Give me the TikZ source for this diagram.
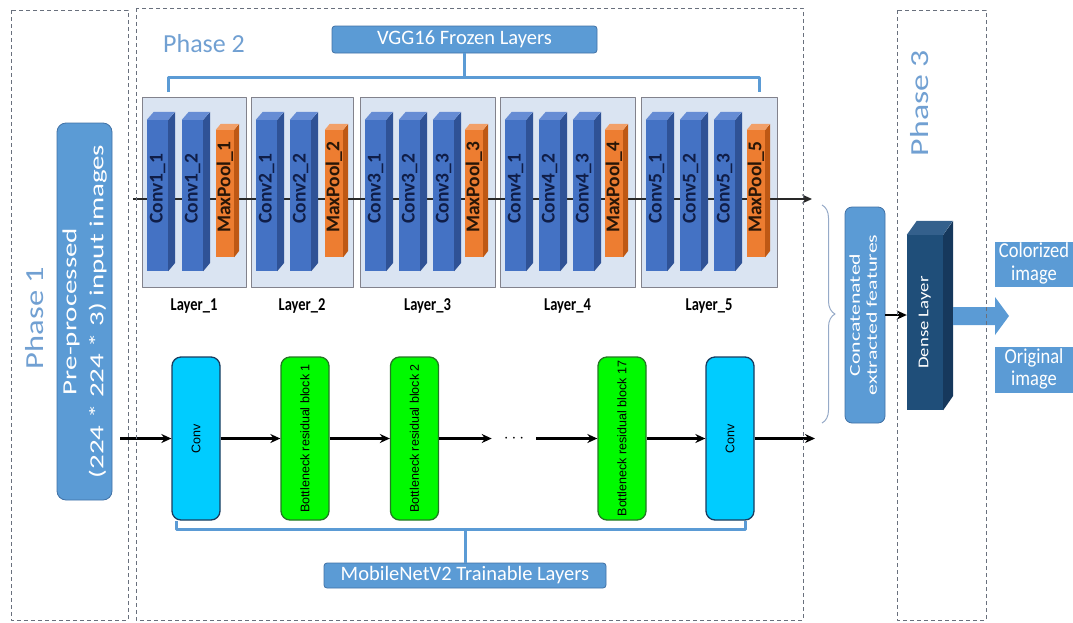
\documentclass[tikz,border=0pt]{standalone}
\usepackage{fontspec}
\setmainfont{Carlito}
\newfontfamily\arialfont{Liberation Sans}
\usepackage{graphicx}
\usetikzlibrary{arrows.meta,positioning,decorations.pathreplacing}

\definecolor{phaseblue}{RGB}{113,160,210}
\definecolor{boxblue}{RGB}{91,155,213}
\definecolor{boxedge}{RGB}{65,113,165}
\definecolor{layerfill}{RGB}{218,228,242}
\definecolor{layeredge}{RGB}{130,130,140}
\definecolor{convfront}{RGB}{68,114,196}
\definecolor{convside}{RGB}{47,82,150}
\definecolor{convtop}{RGB}{102,140,212}
\definecolor{convtext}{RGB}{16,30,72}
\definecolor{poolfront}{RGB}{237,125,49}
\definecolor{poolside}{RGB}{190,88,20}
\definecolor{pooltop}{RGB}{242,160,105}
\definecolor{pooltext}{RGB}{40,22,8}
\definecolor{densefront}{RGB}{31,78,121}
\definecolor{denseside}{RGB}{22,56,92}
\definecolor{densetop}{RGB}{52,96,140}
\definecolor{mbcyan}{RGB}{0,204,255}
\definecolor{mbcyanedge}{RGB}{25,60,95}
\definecolor{mbgreen}{RGB}{0,250,0}
\definecolor{mbgreenedge}{RGB}{35,120,35}
\definecolor{dashgray}{RGB}{105,112,125}
\definecolor{bracegray}{RGB}{150,170,200}
\definecolor{linegray}{RGB}{40,40,40}

\newcommand{\fsz}[2]{\fontsize{#1}{#2}\selectfont}
\newcommand{\vlabel}[2][1.3]{\scalebox{1}[#1]{\rotatebox{90}{\begin{tabular}{@{}c@{}}#2\end{tabular}}}}
\newcommand{\hlabel}[2][1.15]{\scalebox{1}[#1]{\begin{tabular}{@{}c@{}}#2\end{tabular}}}

\begin{document}
\begin{tikzpicture}[x=1pt, y=-1pt, >={Stealth[length=10pt,width=9pt]}, line join=round,
	phasebox/.style={draw=dashgray, line width=0.9pt, dash pattern=on 4pt off 3pt},
	phasetxt/.style={text=phaseblue, inner sep=0pt, font=\fsz{26}{30}},
	bluebox/.style={fill=boxblue, draw=boxedge, line width=0.8pt, text=white, inner sep=0pt},
	layerbox/.style={fill=layerfill, draw=layeredge, line width=0.9pt, minimum height=190, inner sep=0pt},
	layertxt/.style={font=\bfseries\fsz{14.5}{17}, inner sep=0pt},
	conv/.style={fill=convfront, minimum width=21, minimum height=151, inner sep=0pt},
	pool/.style={fill=poolfront, minimum width=18, minimum height=127, inner sep=0pt},
	blocktxt/.style={rotate=90, inner sep=0pt, font=\bfseries\fsz{19.5}{22}},
	mbblock/.style={rounded corners=9, minimum width=48, minimum height=163, line width=1.3pt, inner sep=0pt, font=\arialfont\fsz{12.5}{14}},
	mbconv/.style={mbblock, fill=mbcyan, draw=mbcyanedge},
	bottleneck/.style={mbblock, fill=mbgreen, draw=mbgreenedge},
	bracket/.style={draw=boxblue, line width=3pt},
	arrow/.style={->, line width=2.4pt, draw=black}]
	\useasboundingbox (0,0) rectangle (1073,622);
	% phase titles
	\node[phasetxt] (ph1) at (37,318) {\vlabel[1.25]{Phase 1}};
	\node[phasetxt, anchor=base west] (ph2) at (163,52) {Phase 2};
	\node[phasetxt] (ph3) at (922,103) {\vlabel[1.3]{Phase 3}};
	% input
	\node[bluebox, rounded corners=9, minimum width=55, minimum height=377, font=\fsz{20}{27}] (input) at (84.5,311.5) {\vlabel[1.45]{Pre-processed\\(224 * 224 * 3) input images}};
	% VGG16 branch
	\node[bluebox, rounded corners=3, minimum width=265, minimum height=27, font=\fsz{20.5}{24}] (vgg) at (464.5,39.5) {VGG16 Frozen Layers};
	\draw[bracket] (168,92) -- (168,77) -- (759,77) -- (759,92);
	\draw[bracket] (vgg.south) -- ++(0,24);
	\foreach \a/\b [count=\i] in {142/246, 251/353, 360/495, 500/635, 641/777}
		\node[layerbox, minimum width=\b-\a] (layer\i) at ({(\a+\b)/2},192) {};
	\foreach \i in {1,...,5}
		\node[layertxt, below=11pt of layer\i] (lab\i) {\scalebox{1}[1.25]{Layer\_\i}};
	\coordinate (vggin) at (133,199);
	\coordinate (vggout) at (812,199);
	\draw[arrow, draw=linegray] (vggin) -- (vggout);
	\foreach \x/\n [count=\i] in {147/1\_1, 182/1\_2, 256/2\_1, 290/2\_2, 365/3\_1, 399/3\_2, 433/3\_3, 505/4\_1, 539/4\_2, 573/4\_3, 646/5\_1, 680/5\_2, 714/5\_3}{
		\node[conv] (conv\i) at (\x+10.5,195.5) {};
		\fill[convside] (conv\i.north east) -- ++(7,-8) -- ++(0,151) -- (conv\i.south east) -- cycle;
		\fill[convtop] (conv\i.north west) -- ++(7,-8) -- ++(21,0) -- (conv\i.north east) -- cycle;
		\node[blocktxt, text=convtext] (convlab\i) at ([yshift=7pt]conv\i.center) {Conv\n};}
	\foreach \x [count=\i] in {216,325,465,605,747}{
		\node[pool] (pool\i) at (\x+9,193.5) {};
		\fill[poolside] (pool\i.north east) -- ++(5,-6) -- ++(0,127) -- (pool\i.south east) -- cycle;
		\fill[pooltop] (pool\i.north west) -- ++(5,-6) -- ++(18,0) -- (pool\i.north east) -- cycle;
		\node[blocktxt, text=pooltext] (poollab\i) at ([yshift=6pt]pool\i.center) {MaxPool\_\i};}
	% MobileNetV2 branch
	\coordinate (mbin) at (120,438.5);
	\node[mbconv] (mconv1) at (196,438.5) {\rotatebox{90}{Conv}};
	\node[bottleneck] (bn1) at (305,438.5) {\rotatebox{90}{Bottleneck residual block 1}};
	\node[bottleneck] (bn2) at (414.5,438.5) {\rotatebox{90}{Bottleneck residual block 2}};
	\node[inner xsep=12pt, inner ysep=0pt, font=\fsz{18}{18}] (dots) at (514,438.5) {$\cdots$};
	\node[bottleneck] (bn17) at (622,438.5) {\rotatebox{90}{Bottleneck residual block 17}};
	\node[mbconv] (mconv2) at (730,438.5) {\rotatebox{90}{Conv}};
	\coordinate (mbout) at (815,438.5);
	\draw[arrow] (mbin) -- (mconv1);
	\foreach \a/\b in {mconv1/bn1, bn1/bn2, bn2/dots, dots/bn17, bn17/mconv2}
		\draw[arrow] (\a) -- (\b);
	\draw[arrow] (mconv2) -- (mbout);
	\node[bluebox, rounded corners=3, minimum width=282, minimum height=25, font=\fsz{20.5}{24}] (mobnet) at (465,575.5) {MobileNetV2 Trainable Layers};
	\draw[bracket] (176,521) -- (176,529) -- (745,529) -- (745,521);
	\draw[bracket] (mobnet.north) -- ++(0,-34);
	% concatenation and dense layer
	\draw[bracegray, line width=1pt, decorate, decoration={brace, amplitude=13pt}] (822,205) -- (822,423);
	\node[bluebox, rounded corners=7, minimum width=40, minimum height=216, font=\fsz{15}{17}] (concat) at (865,315) {\vlabel[1.45]{Concatenated\\extracted features}};
	\node[fill=densefront, minimum width=36, minimum height=175, inner sep=0pt, text=white, font=\fsz{15}{17}] (dense) at (925,322.5) {\vlabel[1.25]{Dense Layer}};
	\fill[denseside] (dense.north east) -- ++(10,-14) -- ++(0,175) -- (dense.south east) -- cycle;
	\fill[densetop] (dense.north west) -- ++(10,-14) -- ++(36,0) -- (dense.north east) -- cycle;
	\draw[arrow] (concat.east) -- (concat.east -| dense.west);
	\fill[boxblue] (953,307) -- (995,307) -- (995,297) -- (1009,316) -- (995,335) -- (995,325) -- (953,325) -- cycle;
	\node[bluebox, draw=none, minimum width=78, minimum height=45, font=\fsz{18.5}{19.5}] (colorized) at (1034,264.5) {\hlabel{Colorized\\image}};
	\node[bluebox, draw=none, minimum width=78, minimum height=46, font=\fsz{18.5}{19.5}] (original) at (1034,370) {\hlabel{Original\\image}};
	% phase frames
	\draw[phasebox] (11,10) rectangle (128,620);
	\draw[phasebox] (136,8) rectangle (803,620);
	\draw[phasebox] (897,10) rectangle (986,620);
\end{tikzpicture}
\end{document}
